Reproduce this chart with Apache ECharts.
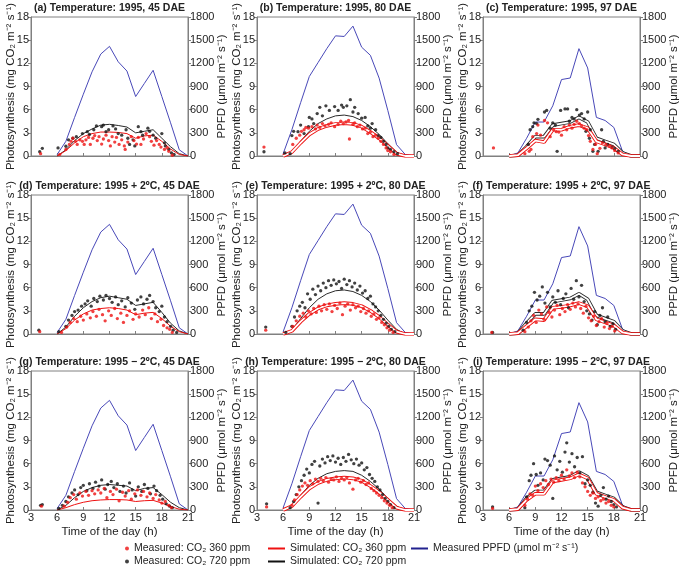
<!DOCTYPE html>
<html><head><meta charset="utf-8">
<script src="https://cdn.jsdelivr.net/npm/echarts@6/dist/echarts.min.js"></script>
<style>html,body{margin:0;padding:0;background:#fff}#c{width:685px;height:569px}</style>
</head><body><div id="c"></div>
<script>
// ---- data ----
const HOURS = [6,7,8,9,10,11,12,13,14,15,16,17,18,19,20,21];
const X_TICK_LABELS = [3,6,9,12,15,18,21];
const Y_LEFT_TICKS = [0,3,6,9,12,15,18];
const Y_RIGHT_TICKS = [0,300,600,900,1200,1500,1800];

// measured PPFD per sampling date (hourly, 6..21 h)
const PPFD_45 = [20,190,500,800,1090,1320,1420,1220,1100,770,940,1110,770,430,80,0];
const PPFD_80 = [30,340,690,1030,1210,1390,1556,1548,1682,1409,1304,1009,589,147,20,0];
const PPFD_97 = [0,40,230,440,440,650,990,1010,1390,1140,500,460,370,60,5,0];

// simulated photosynthesis (hourly, 6..21 h)
const SIM_A_360 = [0,0.7,1.7,2.5,2.9,3.1,3.1,3.05,2.9,2.3,2.6,2.7,1.9,0.9,0.2,0];
const SIM_A_720 = [0,0.8,2.0,2.9,3.5,4.0,4.1,3.95,3.75,3.0,3.2,3.4,2.3,1.2,0.3,0];
const SIM_B_360 = [0,0.5,1.7,2.8,3.5,3.9,4.15,4.25,4.15,3.8,3.1,2.3,1.3,0.3,0,0];
const SIM_B_720 = [0,0.5,1.9,3.2,4.2,4.8,5.2,5.3,5.1,4.6,3.8,2.8,1.6,0.5,0,0];
const SIM_C_360 = [0,0.1,1.0,2.0,1.8,3.4,3.4,3.8,4.0,3.6,1.9,1.5,1.05,0.2,0,0];
const SIM_C_720 = [0,0.1,1.2,2.5,2.5,4.0,4.2,4.4,5.0,4.4,2.3,1.9,1.5,0.4,0,0];
const SIM_D_360 = [0,0.7,1.8,2.6,3.1,3.3,3.4,3.3,3.1,2.5,2.7,2.8,2.0,1.0,0.3,0];
const SIM_D_720 = [0,0.9,2.3,3.4,4.2,4.7,4.9,4.7,4.5,3.7,3.9,4.1,2.8,1.4,0.4,0];
const SIM_E_360 = [0,0.4,1.6,2.6,3.3,3.7,3.9,4.0,3.9,3.6,3.0,2.2,1.2,0.3,0,0];
const SIM_E_720 = [0,0.5,2.0,3.4,4.5,5.2,5.6,5.7,5.5,5.0,4.2,3.1,1.8,0.6,0,0];
const SIM_F_360 = [0,0.1,1.0,1.9,1.8,3.4,3.5,3.7,4.0,3.6,1.9,1.5,1.1,0.2,0,0];
const SIM_F_720 = [0,0.1,1.4,2.6,2.6,4.2,4.4,4.6,5.2,4.5,2.4,2.0,1.6,0.4,0,0];
const SIM_G_360 = [0,0.3,0.7,1.0,1.2,1.3,1.35,1.35,1.3,1.1,1.2,1.25,0.9,0.45,0.1,0];
const SIM_G_720 = [0,0.6,1.6,2.4,2.9,3.2,3.3,3.2,3.1,2.5,2.8,2.9,2.0,1.0,0.3,0];
const SIM_H_360 = [0,0.5,1.7,2.8,3.5,3.9,4.1,4.2,4.1,3.8,3.1,2.3,1.3,0.3,0,0];
const SIM_H_720 = [0,0.5,1.9,3.2,4.1,4.7,5.0,5.1,5.0,4.5,3.7,2.7,1.5,0.5,0,0];
const SIM_I_360 = [0,0.1,1.3,2.1,2.1,3.7,3.9,4.1,4.6,4.1,2.1,1.7,1.3,0.3,0,0];
const SIM_I_720 = [0,0.1,1.5,2.4,2.4,3.9,4.1,4.3,4.9,4.3,2.3,1.9,1.5,0.4,0,0];

// measured photosynthesis [hour, value]
const MEAS_A_360 = [[4.1,0.3],[6.3,0.2],[7.0,0.85],[7.4,1.5],[7.6,1.9],[7.8,2.3],[8.1,1.9],[8.3,1.5],[8.6,2.1],[8.9,1.9],[9.1,1.5],[9.3,2.1],[9.6,2.4],[9.8,1.5],[10.1,2.3],[10.3,2.65],[10.6,2.0],[10.8,2.5],[11.1,1.55],[11.3,2.2],[11.6,2.7],[11.9,2.0],[12.1,1.3],[12.3,2.5],[12.6,1.8],[12.8,2.4],[13.1,1.5],[13.4,2.1],[13.7,1.3],[13.8,0.85],[14.1,1.8],[14.5,2.5],[14.8,2.0],[15.1,1.55],[15.3,2.4],[15.6,1.5],[15.9,2.2],[16.2,2.9],[16.6,2.5],[16.8,1.9],[17.1,1.4],[17.4,2.0],[17.7,1.5],[17.9,1.15],[18.3,0.85],[18.6,1.05],[18.8,0.6],[19.2,0.1]];
const MEAS_A_720 = [[4.0,0.55],[4.3,1.0],[6.1,1.05],[7.0,1.26],[7.3,2.1],[7.8,2.3],[8.2,2.5],[8.9,2.9],[9.45,3.15],[9.7,2.8],[10.2,3.4],[10.5,3.9],[11.1,3.8],[11.3,4.0],[11.6,3.15],[11.9,3.4],[12.4,3.9],[12.7,3.5],[13.0,2.9],[13.4,2.7],[13.9,3.4],[14.1,2.3],[14.3,1.5],[14.7,2.1],[14.9,1.3],[15.3,3.8],[15.6,3.15],[15.8,2.7],[16.4,3.6],[16.6,3.2],[17.0,2.7],[17.3,2.3],[18.0,2.9],[18.3,1.7],[18.4,1.3],[18.8,0.85],[19.1,0.4],[19.4,0.2]];
const MEAS_B_360 = [[3.8,1.15],[7.1,1.5],[7.5,2.3],[7.9,2.7],[8.1,3.2],[8.4,3.4],[8.6,3.7],[8.9,3.6],[9.3,3.8],[9.7,3.5],[9.9,4.0],[10.2,3.7],[10.5,4.2],[10.8,3.9],[11.2,4.1],[11.5,4.3],[11.9,3.8],[12.3,4.1],[12.6,4.5],[12.9,4.2],[13.2,4.4],[13.5,4.6],[13.6,2.2],[14.0,4.1],[14.2,4.3],[14.5,3.8],[14.8,4.0],[15.1,3.5],[15.4,3.6],[15.7,2.9],[16.0,3.1],[16.3,2.5],[16.6,2.7],[16.9,2.3],[17.2,1.9],[17.5,1.5],[17.8,1.05],[18.0,0.7],[18.3,0.55],[18.7,0.2]];
const MEAS_B_720 = [[3.8,0.55],[6.2,0.4],[6.8,0.3],[7.0,2.65],[7.2,3.2],[7.7,3.15],[8.0,4.0],[8.4,2.9],[8.9,3.8],[9.0,5.0],[9.3,4.8],[9.5,4.2],[9.9,5.5],[10.2,6.3],[10.5,5.2],[10.9,6.5],[11.3,5.9],[11.9,6.4],[12.3,5.9],[12.7,6.6],[12.9,6.3],[13.3,6.5],[13.7,7.3],[14.0,5.7],[14.2,6.3],[14.6,5.5],[15.0,4.9],[15.4,5.0],[15.7,3.9],[16.0,3.6],[16.2,4.2],[16.6,3.4],[16.9,2.65],[17.2,2.4],[17.5,1.9],[17.8,1.5],[18.0,1.05],[18.3,0.85],[18.7,0.55],[19.1,0.3]];
const MEAS_C_360 = [[4.2,1.05],[7.8,0.3],[8.3,0.6],[8.5,0.85],[8.7,2.5],[9.15,2.9],[9.3,4.0],[9.6,2.7],[10.05,4.6],[10.4,4.3],[10.7,2.5],[11.1,3.4],[11.4,3.15],[11.7,3.1],[12.0,2.7],[12.3,3.8],[12.6,3.4],[12.9,4.0],[13.2,3.6],[13.45,4.1],[13.75,4.5],[14.05,4.2],[14.3,3.9],[14.6,3.6],[14.9,3.4],[15.1,2.65],[15.3,1.9],[15.6,0.85],[15.9,1.5],[16.1,0.3],[16.4,1.0],[16.7,1.7],[17.1,1.5],[17.5,1.3],[17.8,1.05],[18.1,0.7],[18.5,0.4]];
const MEAS_C_720 = [[8.2,1.5],[8.4,3.4],[8.7,3.8],[8.85,4.3],[9.15,4.2],[9.3,4.75],[10.05,5.7],[10.3,5.9],[10.7,3.6],[11.0,4.3],[11.3,4.0],[11.5,0.6],[11.9,5.9],[12.4,6.1],[12.7,6.1],[12.9,4.5],[13.2,5.0],[13.45,4.8],[13.75,6.0],[14.05,5.3],[14.3,5.5],[14.6,4.8],[14.8,3.2],[15.0,5.7],[15.2,2.3],[15.3,3.4],[15.6,0.6],[15.8,1.5],[16.2,0.6],[16.6,3.4],[16.8,1.9],[17.0,1.05],[17.3,1.5],[17.8,1.15],[18.1,0.95],[18.5,0.6]];
const MEAS_D_360 = [[4.0,0.3],[6.5,0.2],[7.1,0.9],[7.5,1.5],[7.9,2.0],[8.3,1.6],[8.7,2.3],[9.0,1.8],[9.4,2.6],[9.8,2.1],[10.1,2.9],[10.5,2.3],[10.8,3.2],[11.2,2.5],[11.5,1.7],[11.9,3.0],[12.2,2.4],[12.6,3.3],[12.9,2.0],[13.3,2.7],[13.6,1.5],[14.0,2.4],[14.3,3.0],[14.7,1.9],[15.0,2.6],[15.4,2.2],[15.8,3.1],[16.1,2.5],[16.5,3.4],[16.8,2.0],[17.2,2.6],[17.5,1.6],[17.9,1.9],[18.2,1.1],[18.6,0.8],[18.9,0.6],[19.2,0.2]];
const MEAS_D_720 = [[3.9,0.5],[6.2,0.3],[7.0,1.0],[7.3,1.8],[7.7,2.4],[8.0,2.9],[8.4,3.1],[8.8,3.6],[9.2,3.9],[9.5,4.3],[9.9,3.6],[10.2,4.6],[10.6,4.2],[10.9,4.9],[11.3,4.4],[11.6,5.0],[12.0,4.6],[12.3,4.1],[12.7,4.8],[13.0,3.8],[13.4,4.3],[13.8,3.5],[14.1,4.7],[14.5,4.0],[14.9,3.2],[15.2,4.4],[15.6,4.8],[15.9,3.9],[16.3,4.5],[16.6,5.0],[17.0,4.2],[17.3,3.4],[17.7,2.9],[18.0,3.6],[18.3,2.2],[18.6,1.6],[19.0,1.0],[19.3,0.5],[19.7,0.2]];
const MEAS_E_360 = [[4.0,0.5],[7.1,1.0],[7.5,1.7],[7.9,2.3],[8.3,2.7],[8.6,2.2],[8.9,3.0],[9.2,2.6],[9.5,3.3],[9.8,2.8],[10.1,3.6],[10.4,3.0],[10.7,3.8],[11.0,3.2],[11.3,3.9],[11.6,2.9],[11.9,3.7],[12.2,3.3],[12.5,4.0],[12.8,2.5],[13.1,3.6],[13.4,3.9],[13.7,3.1],[14.0,3.8],[14.3,3.4],[14.6,3.6],[14.9,2.9],[15.2,3.3],[15.5,2.7],[15.8,3.0],[16.1,2.3],[16.4,2.6],[16.7,1.9],[17.0,2.1],[17.3,1.5],[17.6,1.2],[17.9,0.8],[18.2,0.5],[18.6,0.2]];
const MEAS_E_720 = [[4.0,0.9],[6.3,0.2],[7.0,1.0],[7.3,2.2],[7.6,3.0],[7.9,3.6],[8.2,4.1],[8.5,3.4],[8.8,5.2],[9.1,4.5],[9.4,5.8],[9.7,5.1],[10.0,6.2],[10.3,5.6],[10.6,6.6],[10.9,6.0],[11.2,6.9],[11.5,6.3],[11.8,7.0],[12.1,6.5],[12.4,6.8],[12.7,5.9],[13.0,7.1],[13.3,6.4],[13.6,6.9],[13.9,6.1],[14.2,6.6],[14.5,5.7],[14.8,6.2],[15.1,5.3],[15.4,5.6],[15.7,4.6],[16.0,4.9],[16.3,3.9],[16.6,3.5],[16.9,3.0],[17.2,2.4],[17.5,1.9],[17.8,1.4],[18.1,1.0],[18.4,0.6],[18.8,0.3]];
const MEAS_F_360 = [[4.0,0.2],[7.8,0.3],[8.2,0.9],[8.5,1.7],[8.8,2.4],[9.1,1.5],[9.4,3.1],[9.7,2.6],[10.0,1.9],[10.3,3.5],[10.6,2.8],[10.9,2.2],[11.2,3.1],[11.5,3.7],[11.8,2.5],[12.1,3.3],[12.4,2.9],[12.7,3.8],[13.0,3.2],[13.3,4.0],[13.6,3.5],[13.9,3.9],[14.2,3.3],[14.5,2.7],[14.8,3.6],[15.1,2.1],[15.4,1.7],[15.7,2.3],[16.0,1.1],[16.3,1.6],[16.6,2.0],[16.9,0.9],[17.2,1.4],[17.5,0.7],[17.8,1.0],[18.1,0.4]];
const MEAS_F_720 = [[4.1,0.2],[7.6,0.5],[8.0,1.5],[8.3,3.0],[8.6,3.6],[8.9,5.4],[9.2,4.4],[9.5,4.9],[9.8,6.1],[10.1,4.0],[10.4,5.4],[10.7,3.5],[11.0,4.8],[11.3,4.1],[11.6,5.6],[11.9,3.8],[12.2,4.6],[12.5,5.2],[12.8,3.4],[13.1,5.9],[13.4,4.5],[13.7,6.9],[14.0,4.8],[14.3,6.3],[14.6,4.2],[14.9,3.0],[15.2,2.6],[15.5,1.8],[15.8,2.9],[16.1,1.2],[16.4,2.4],[16.7,3.4],[17.0,1.6],[17.3,2.2],[17.6,1.0],[17.9,1.3],[18.2,0.6]];
const MEAS_G_360 = [[4.2,0.5],[6.8,0.5],[7.2,1.0],[7.5,1.6],[7.9,2.0],[8.2,1.4],[8.6,2.2],[8.9,1.8],[9.3,2.4],[9.6,1.9],[10.0,2.5],[10.3,2.1],[10.7,2.6],[11.0,2.2],[11.4,2.8],[11.7,1.6],[12.1,2.4],[12.4,2.0],[12.8,2.7],[13.1,1.2],[13.5,2.3],[13.8,1.8],[14.2,2.5],[14.5,1.4],[14.9,2.1],[15.2,2.6],[15.6,1.9],[15.9,2.4],[16.3,1.7],[16.6,2.2],[17.0,1.5],[17.3,2.0],[17.7,1.3],[18.0,0.9],[18.4,1.1],[18.8,0.6],[19.1,0.3]];
const MEAS_G_720 = [[4.1,0.6],[4.3,0.7],[6.2,0.2],[6.6,0.6],[7.0,1.1],[7.3,1.7],[7.7,2.2],[8.0,2.6],[8.4,2.0],[8.7,2.9],[9.0,3.2],[9.4,2.5],[9.7,3.4],[10.1,2.8],[10.4,3.6],[10.8,3.1],[11.1,3.9],[11.5,2.7],[11.8,3.3],[12.2,3.7],[12.5,2.9],[12.9,3.4],[13.2,2.4],[13.6,3.1],[13.9,2.2],[14.3,3.5],[14.6,2.6],[15.0,1.8],[15.3,3.0],[15.7,2.4],[16.0,3.3],[16.4,2.8],[16.7,2.1],[17.1,3.1],[17.4,2.5],[17.8,1.9],[18.1,1.4],[18.5,0.8],[18.9,0.5],[19.2,0.3]];
const MEAS_H_360 = [[4.1,0.4],[7.0,0.6],[7.3,1.3],[7.6,2.0],[7.9,2.6],[8.2,3.1],[8.5,3.5],[8.8,3.2],[9.1,3.8],[9.4,3.4],[9.7,4.0],[10.0,3.7],[10.3,4.1],[10.6,3.8],[10.9,4.2],[11.2,3.6],[11.5,4.0],[11.8,3.9],[12.1,4.3],[12.4,3.7],[12.7,4.1],[13.0,3.9],[13.3,4.2],[13.6,3.5],[14.0,2.7],[14.3,3.9],[14.6,4.1],[14.9,3.6],[15.2,3.8],[15.5,3.3],[15.8,3.5],[16.1,2.8],[16.4,2.5],[16.7,2.2],[17.0,1.9],[17.3,1.6],[17.6,1.2],[17.9,0.9],[18.2,0.6],[18.5,0.3]];
const MEAS_H_720 = [[4.1,0.8],[6.8,0.3],[7.2,1.1],[7.5,2.0],[7.8,3.0],[8.1,3.8],[8.4,4.5],[8.7,5.3],[9.0,4.8],[9.3,5.9],[9.6,6.3],[10.0,0.9],[10.2,5.7],[10.5,6.6],[10.8,6.1],[11.1,6.9],[11.4,6.4],[11.7,7.0],[12.0,6.2],[12.3,6.7],[12.6,5.9],[12.9,6.8],[13.2,6.3],[13.5,7.2],[13.8,6.5],[14.1,6.0],[14.4,6.6],[14.7,5.8],[15.0,6.1],[15.3,5.2],[15.6,5.5],[15.9,4.6],[16.2,4.1],[16.5,3.7],[16.8,3.0],[17.1,2.6],[17.4,2.0],[17.7,1.5],[18.0,1.1],[18.3,0.7],[18.7,0.3]];
const MEAS_I_360 = [[4.1,0.2],[7.8,0.6],[8.1,1.4],[8.4,2.1],[8.7,1.9],[9.0,3.1],[9.3,2.5],[9.6,3.4],[9.9,2.9],[10.2,3.8],[10.5,3.3],[10.8,4.0],[11.1,3.6],[11.4,4.2],[11.7,3.8],[12.0,4.5],[12.3,4.0],[12.6,5.2],[12.9,4.4],[13.2,4.8],[13.5,4.2],[13.8,4.9],[14.1,4.3],[14.4,3.5],[14.7,3.0],[15.0,2.4],[15.3,1.9],[15.6,2.2],[15.9,1.5],[16.2,1.7],[16.5,1.2],[16.8,1.4],[17.1,0.9],[17.4,1.1],[17.7,0.6],[18.0,0.4]];
const MEAS_I_720 = [[4.1,0.4],[7.8,0.3],[8.0,1.7],[8.3,3.8],[8.5,4.5],[8.8,6.0],[9.1,4.6],[9.3,3.2],[9.6,4.8],[9.9,3.9],[10.1,6.6],[10.4,6.4],[10.7,5.8],[11.0,1.5],[11.2,7.0],[11.5,5.2],[11.8,6.3],[12.1,4.9],[12.4,7.5],[12.6,8.7],[12.9,6.2],[13.2,7.3],[13.5,5.6],[13.8,6.8],[14.1,4.8],[14.4,6.9],[14.7,3.4],[15.0,3.9],[15.3,3.2],[15.6,2.3],[15.9,0.9],[16.2,0.5],[16.5,1.9],[16.8,2.9],[17.1,1.4],[17.4,1.8],[17.7,1.1],[18.0,0.7],[18.3,0.4]];

const TITLES = [
  '(a) Temperature: 1995, 45 DAE', '(b) Temperature: 1995, 80 DAE', '(c) Temperature: 1995, 97 DAE',
  '(d) Temperature: 1995 + 2ºC, 45 DAE', '(e) Temperature: 1995 + 2ºC, 80 DAE', '(f) Temperature: 1995 + 2ºC, 97 DAE',
  '(g) Temperature: 1995 − 2ºC, 45 DAE', '(h) Temperature: 1995 − 2ºC, 80 DAE', '(i) Temperature: 1995 − 2ºC, 97 DAE'
];
const PPFD_BY_COL = [PPFD_45, PPFD_80, PPFD_97];
const SIM360 = [SIM_A_360,SIM_B_360,SIM_C_360,SIM_D_360,SIM_E_360,SIM_F_360,SIM_G_360,SIM_H_360,SIM_I_360];
const SIM720 = [SIM_A_720,SIM_B_720,SIM_C_720,SIM_D_720,SIM_E_720,SIM_F_720,SIM_G_720,SIM_H_720,SIM_I_720];
const MEAS360 = [MEAS_A_360,MEAS_B_360,MEAS_C_360,MEAS_D_360,MEAS_E_360,MEAS_F_360,MEAS_G_360,MEAS_H_360,MEAS_I_360];
const MEAS720 = [MEAS_A_720,MEAS_B_720,MEAS_C_720,MEAS_D_720,MEAS_E_720,MEAS_F_720,MEAS_G_720,MEAS_H_720,MEAS_I_720];

const N_M360 = 'Measured: CO₂ 360 ppm';
const N_M720 = 'Measured: CO₂ 720 ppm';
const N_S360 = 'Simulated: CO₂ 360 ppm';
const N_S720 = 'Simulated: CO₂ 720 ppm';
const N_PPFD = 'Measured PPFD (μmol m⁻² s⁻¹)';

// ---- layout / style ----
const FONT = 'Liberation Sans, Arial, Helvetica, sans-serif';
const LEFTS = [31, 257, 483], TOPS = [17, 195, 371], W = 157, H = 139;
const AX = '#808080', TXT = '#222';
const RED = '#ee1111', BLK = '#111111', SIMBLK = '#2a2a2a', BLUE = '#4848b8';
// hollow (double-edged) look of simulated lines, per panel: [360 ppm, 720 ppm]
const HOLLOW = [[false,false],[true,false],[true,true],[false,false],[true,false],[true,true],[false,false],[true,false],[true,true]];

const grids = [], xAxes = [], yAxes = [], series = [], graphics = [];
const pairs = arr => HOURS.map((h, k) => [h, arr[k]]);

function simSeries(name, i, data, color, hollow) {
  const base = {type: 'line', xAxisIndex: i, yAxisIndex: 2 * i, data: pairs(data),
    showSymbol: false, symbol: 'none', silent: true};
  if (!hollow) {
    series.push(Object.assign({}, base, {name, z: 3, lineStyle: {color, width: 1}, itemStyle: {color}}));
  } else {
    series.push(Object.assign({}, base, {name, z: 3, lineStyle: {color, width: 3.6}, itemStyle: {color}}));
    series.push(Object.assign({}, base, {name: name + ' ', z: 3, lineStyle: {color: '#fff', width: 1.8}}));
  }
}

for (let i = 0; i < 9; i++) {
  const r = Math.floor(i / 3), c = i % 3;
  grids.push({left: LEFTS[c], top: TOPS[r], width: W, height: H, show: true,
    borderColor: AX, borderWidth: 1, backgroundColor: 'transparent'});
  xAxes.push({gridIndex: i, type: 'value', min: 3, max: 21, interval: 3,
    axisLine: {show: true, onZero: false, lineStyle: {color: AX}},
    axisTick: {show: true, inside: true, length: 3, lineStyle: {color: AX}},
    axisLabel: {show: r === 2, fontSize: 11, color: TXT, fontFamily: FONT, margin: 2,
      formatter: v => X_TICK_LABELS.includes(v) ? String(v) : ''},
    splitLine: {show: false},
    name: r === 2 ? 'Time of the day (h)' : '', nameLocation: 'middle', nameGap: 16, nameMoveOverlap: false,
    nameTextStyle: {fontSize: 11.5, color: TXT, fontFamily: FONT}});
  yAxes.push({gridIndex: i, type: 'value', position: 'left', min: 0, max: 18, interval: 3,
    axisLine: {show: true, lineStyle: {color: AX}},
    axisTick: {show: true, length: 3, lineStyle: {color: AX}},
    axisLabel: {fontSize: 11, color: TXT, fontFamily: FONT, margin: 2,
      formatter: v => Y_LEFT_TICKS.includes(v) ? String(v) : ''},
    splitLine: {show: false},
    name: 'Photosynthesis (mg CO₂ m⁻² s⁻¹)', nameLocation: 'middle', nameGap: 14, nameMoveOverlap: false,
    nameTextStyle: {fontSize: 11.5, color: TXT, fontFamily: FONT}});
  yAxes.push({gridIndex: i, type: 'value', position: 'right', min: 0, max: 1800, interval: 300,
    axisLine: {show: true, lineStyle: {color: AX}},
    axisTick: {show: true, length: 3, lineStyle: {color: AX}},
    axisLabel: {fontSize: 11, color: TXT, fontFamily: FONT, margin: 2,
      formatter: v => Y_RIGHT_TICKS.includes(v) ? String(v) : ''},
    splitLine: {show: false},
    name: 'PPFD (μmol m⁻² s⁻¹)', nameLocation: 'middle', nameGap: 28, nameMoveOverlap: false,
    nameTextStyle: {fontSize: 11.5, color: TXT, fontFamily: FONT}});

  series.push({name: N_PPFD, type: 'line', xAxisIndex: i, yAxisIndex: 2 * i + 1,
    data: pairs(PPFD_BY_COL[c]), showSymbol: false, symbol: 'none', z: 2,
    lineStyle: {color: BLUE, width: 1}, itemStyle: {color: '#22228f'}});
  simSeries(N_S720, i, SIM720[i], SIMBLK, HOLLOW[i][1]);
  simSeries(N_S360, i, SIM360[i], RED, HOLLOW[i][0]);
  series.push({name: N_M720, type: 'scatter', xAxisIndex: i, yAxisIndex: 2 * i,
    data: MEAS720[i], symbol: 'circle', symbolSize: 3.3, z: 4, itemStyle: {color: BLK}});
  series.push({name: N_M360, type: 'scatter', xAxisIndex: i, yAxisIndex: 2 * i,
    data: MEAS360[i], symbol: 'circle', symbolSize: 3.3, z: 4, itemStyle: {color: RED}});

  graphics.push({type: 'text', x: LEFTS[c] + W / 2, y: TOPS[r] - 9,
    style: {text: TITLES[i], align: 'center', verticalAlign: 'middle', textAlign: 'center', textVerticalAlign: 'middle',
      font: 'bold 10.5px ' + FONT, fill: TXT}});
}

const legendText = {fontSize: 10.5, color: TXT, fontFamily: FONT};
function oneLegend(name, icon, left, top, w, h, color) {
  return {orient: 'horizontal', left, top, itemWidth: w, itemHeight: h, itemGap: 0, selectedMode: false,
    padding: 0, textStyle: legendText,
    data: [{name, icon, itemStyle: {color, borderWidth: 0, borderColor: color}}]};
}
const option = {
  animation: false,
  backgroundColor: '#fff',
  grid: grids, xAxis: xAxes, yAxis: yAxes, series: series, graphic: graphics,
  legend: [
    oneLegend(N_M360, 'circle', 125, 543, 4, 4, RED),
    oneLegend(N_M720, 'circle', 125, 556, 4, 4, BLK),
    oneLegend(N_S360, 'rect', 268, 543, 17, 2, RED),
    oneLegend(N_S720, 'rect', 268, 556, 17, 2, '#111'),
    oneLegend(N_PPFD, 'rect', 411, 543, 17, 2, '#22228f')
  ]
};
const chart = echarts.init(document.getElementById('c'), null, {renderer: 'canvas'});
chart.setOption(option);
</script></body></html>
